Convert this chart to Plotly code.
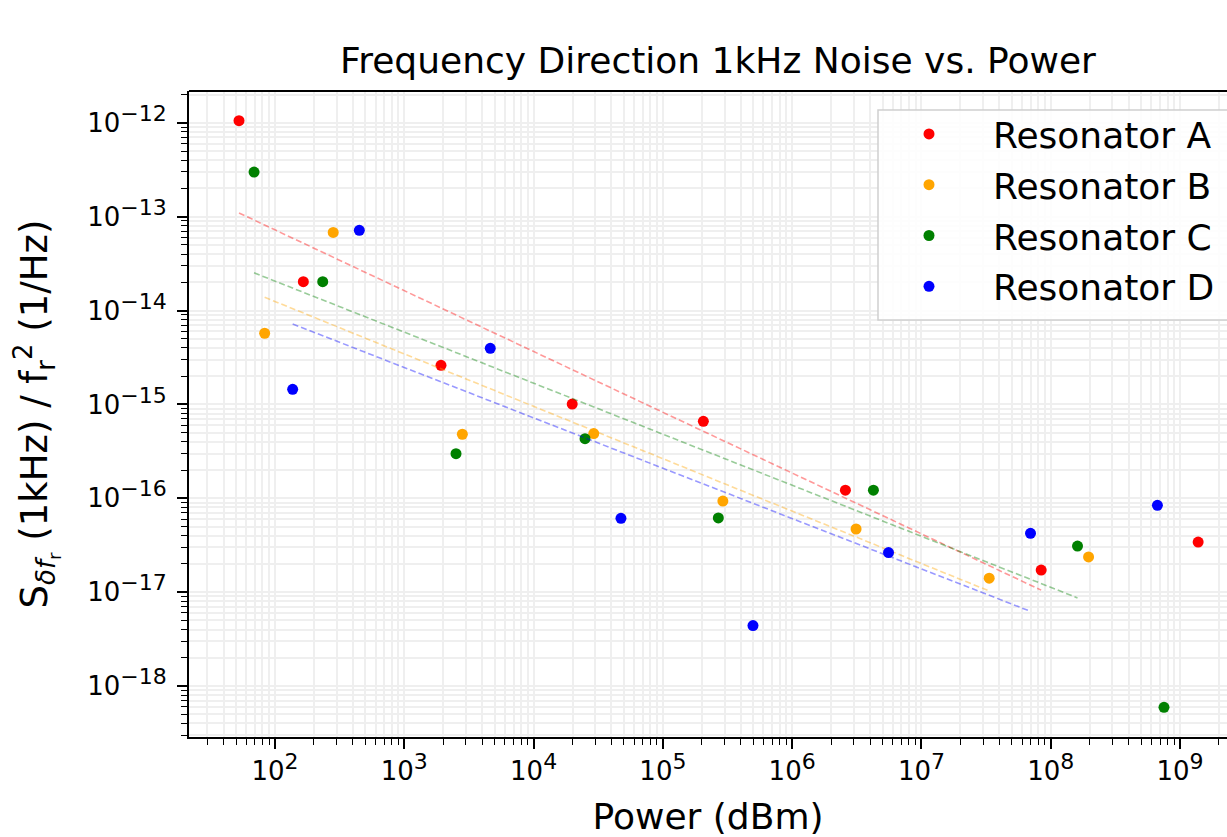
import numpy as np
import plotly.graph_objects as go

# ---- data ----
names = ["Resonator A", "Resonator B", "Resonator C", "Resonator D"]
colors = ["red", "orange", "green", "blue"]
line_colors = ["rgba(255,0,0,0.4)", "rgba(255,165,0,0.4)", "rgba(0,128,0,0.4)", "rgba(0,0,255,0.4)"]

power_A = [52.7, 165.7, 1923, 19900, 205600, 2.58e6, 8.43e7, 1.38e9]
noise_A = [1.055e-12, 2.03e-14, 2.61e-15, 1.01e-15, 6.6e-16, 1.22e-16, 1.72e-17, 3.42e-17]

power_B = [83.2, 282, 2812, 29200, 291000, 3.12e6, 3.34e7, 1.96e8]
noise_B = [5.73e-15, 6.8e-14, 4.81e-16, 4.89e-16, 9.35e-17, 4.71e-17, 1.41e-17, 2.37e-17]

power_C = [68.9, 234, 2513, 25000, 268500, 4.25e6, 1.61e8, 7.51e8]
noise_C = [2.99e-13, 2.03e-14, 2.99e-16, 4.32e-16, 6.17e-17, 1.22e-16, 3.1e-17, 5.93e-19]

power_D = [137, 449, 4624, 47400, 497700, 5.56e6, 6.97e7, 6.68e8]
noise_D = [1.45e-15, 7.16e-14, 3.96e-15, 6.12e-17, 4.41e-18, 2.64e-17, 4.24e-17, 8.41e-17]

powers = [power_A, power_B, power_C, power_D]
noises = [noise_A, noise_B, noise_C, noise_D]
FIT_N = 7  # power-law fit uses the first 7 points of each resonator

SUP = "<sup><span style='font-size:22px'>%s</span></sup>"
x_major = [1e2, 1e3, 1e4, 1e5, 1e6, 1e7, 1e8, 1e9]
x_major_text = ["10" + SUP % e for e in range(2, 10)]
y_major = [1e-18, 1e-17, 1e-16, 1e-15, 1e-14, 1e-13, 1e-12]
y_major_text = ["10" + SUP % ("\u2212%d" % e) for e in range(18, 11, -1)]

x_minor = [m * 10.0 ** e for e in range(1, 10) for m in range(2, 10)]
y_minor = [m * 10.0 ** e for e in range(-19, -11) for m in range(2, 10)]

GRID = "#efefef"
FONT = "DejaVu Sans"
W, H = 1227, 837
L, T, B = 189, 91, 100
PW, PH = W - L, H - T - B

fig = go.Figure()

for name, c, lc, px, ny in zip(names, colors, line_colors, powers, noises):
    fig.add_trace(go.Scatter(
        x=px, y=ny, mode="markers", name=name, legendgroup=name,
        marker=dict(color=c, size=11, line=dict(width=0)),
    ))
    lx = np.log10(px[:FIT_N])
    ly = np.log10(ny[:FIT_N])
    slope, icpt = np.polyfit(lx, ly, 1)
    fx = np.array(px[:FIT_N])
    fy = 10 ** (slope * lx + icpt)
    fig.add_trace(go.Scatter(
        x=fx, y=fy, mode="lines", showlegend=False, hoverinfo="skip", legendgroup=name,
        line=dict(color=lc, width=1.6, dash="6px,3px"),
    ))

axis_common = dict(
    type="log",
    showgrid=True, gridcolor=GRID, gridwidth=1.5,
    zeroline=False,
    showline=True, linecolor="black", linewidth=2,
    ticks="outside", ticklen=10, tickwidth=1.5, tickcolor="black",
    tickfont=dict(family=FONT, size=26, color="black"),
    mirror=False,
)

fig.update_xaxes(
    **axis_common,
    range=[1.335, 9.363],
    tickmode="array", tickvals=x_major, ticktext=x_major_text,
    minor=dict(tickmode="array", tickvals=x_minor, ticks="outside", ticklen=6,
               tickwidth=1.2, tickcolor="black", showgrid=True, gridcolor=GRID, gridwidth=1.5),
    title=dict(text="Power (dBm)", font=dict(family=FONT, size=36, color="black"), standoff=46),
)
fig.update_yaxes(
    **axis_common,
    range=[-18.543, -11.661],
    tickmode="array", tickvals=y_major, ticktext=y_major_text,
    ticklabelstandoff=5,
    minor=dict(tickmode="array", tickvals=y_minor, ticks="outside", ticklen=6,
               tickwidth=1.2, tickcolor="black", showgrid=True, gridcolor=GRID, gridwidth=1.5),
    title=dict(text="S<sub><i>\u03b4f</i><sub>r</sub></sub> (1kHz) / f<sub>r</sub><sup>2</sup> (1/Hz)",
               font=dict(family=FONT, size=37, color="black"), standoff=28),
)

# top spine (right spine lies outside the visible picture in the reference)
fig.add_shape(type="line", xref="paper", yref="paper", x0=0, x1=1, y0=1, y1=1,
              line=dict(color="black", width=2))


def px2paper_x(p):
    return (p - L) / PW


def px2paper_y(p):
    return (H - B - p) / PH


# legend frame (box running past the right edge, as in the reference)
fig.add_shape(type="rect", xref="paper", yref="paper",
              x0=px2paper_x(878), x1=px2paper_x(1245), y0=px2paper_y(320), y1=px2paper_y(110),
              line=dict(color="#d0d0d0", width=1.5), fillcolor="rgba(255,255,255,0.85)",
              layer="above")

fig.update_layout(
    width=W, height=H,
    margin=dict(l=L, r=0, t=T, b=B, autoexpand=False),
    paper_bgcolor="white", plot_bgcolor="white",
    font=dict(family=FONT, color="black"),
    title=dict(text="Frequency Direction 1kHz Noise vs. Power",
               font=dict(family=FONT, size=36, color="black"),
               xref="container", yref="container", x=718 / W, xanchor="center",
               y=1 - 60 / H, yanchor="middle"),
    legend=dict(
        x=px2paper_x(865), xanchor="left",
        y=px2paper_y(104), yanchor="top",
        bgcolor="rgba(0,0,0,0)", borderwidth=0,
        font=dict(family=FONT, size=36, color="black"),
        itemwidth=118, tracegroupgap=1,
    ),
    showlegend=True,
)

fig.write_html("out.html")
